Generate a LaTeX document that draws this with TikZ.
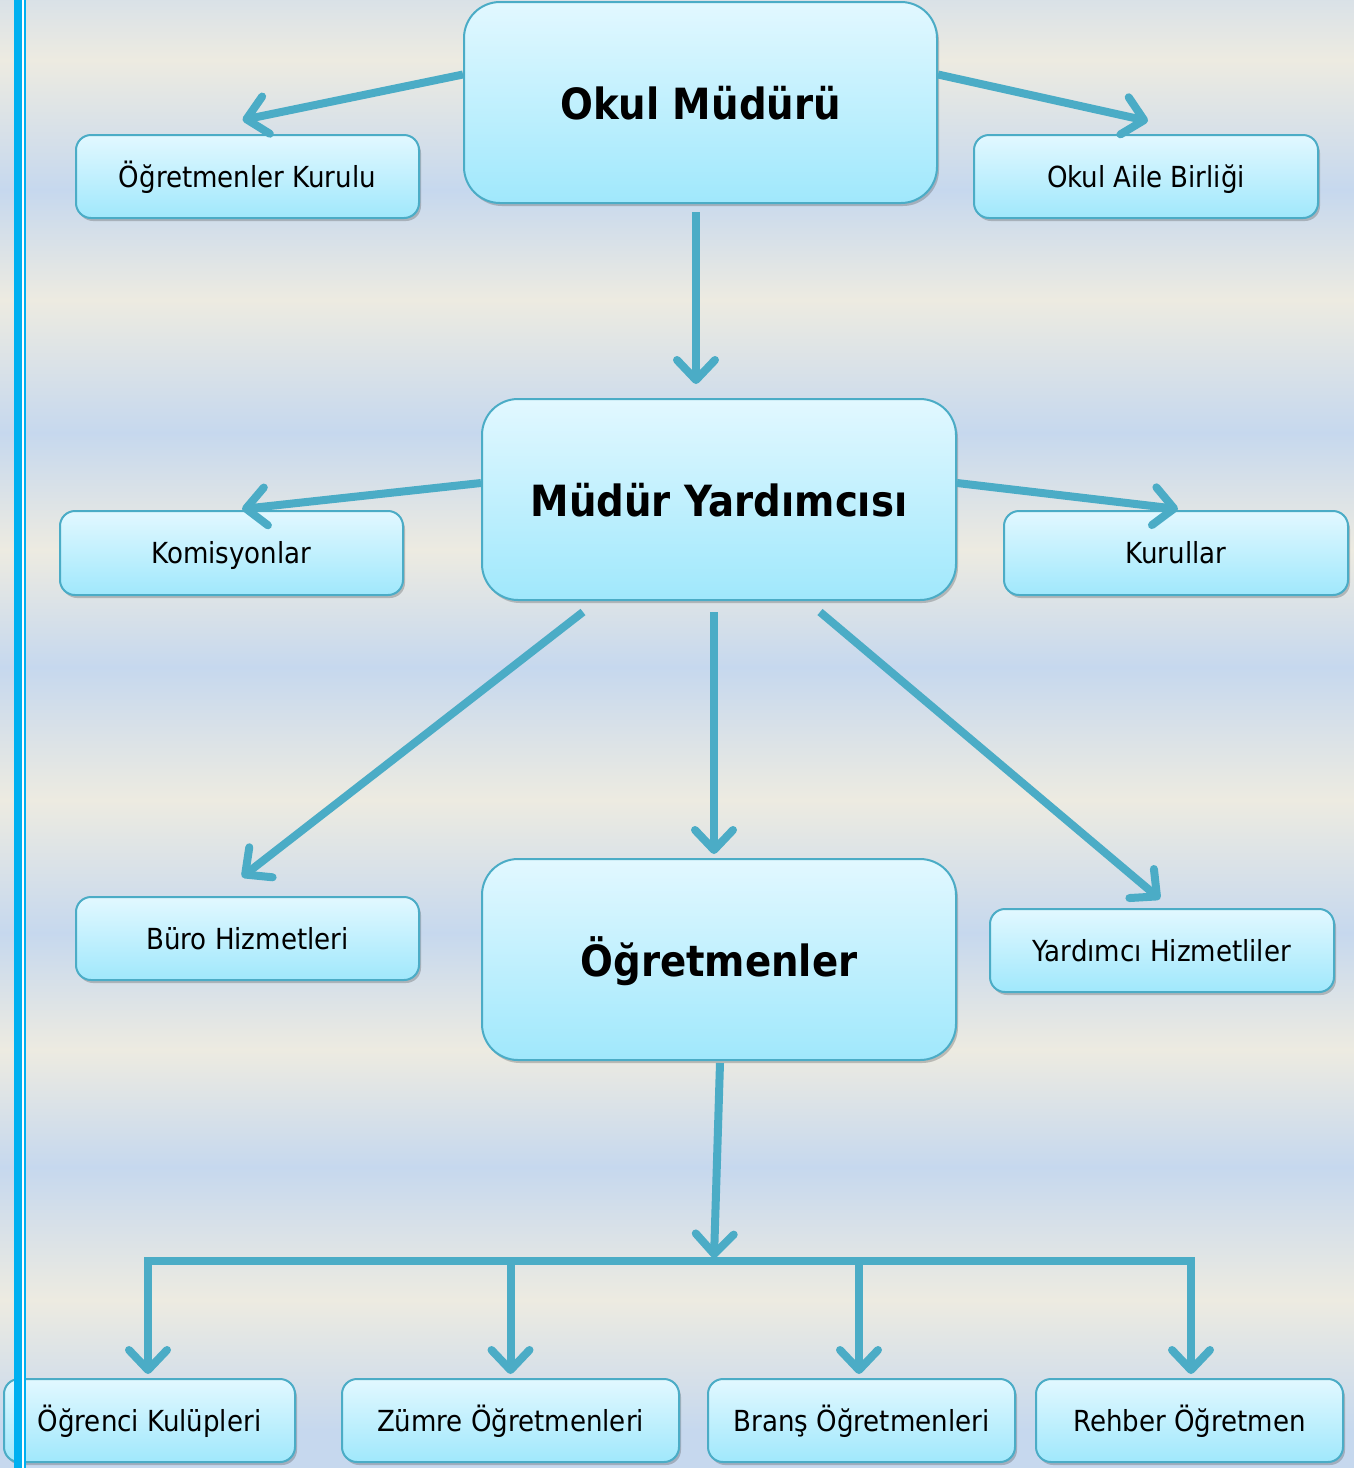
\documentclass[tikz,border=0pt]{standalone}
\usepackage{fontspec}
\IfFontExistsTF{DejaVu Sans Condensed}{\setmainfont{DejaVu Sans Condensed}}{\setmainfont{DejaVu Sans}}
\usetikzlibrary{arrows.meta,calc,shadows}
\definecolor{bgbeige}{RGB}{237,235,225}
\definecolor{bgblue}{RGB}{198,216,238}
\definecolor{lineblue}{RGB}{75,172,198}
\definecolor{boxtop}{RGB}{226,248,255}
\definecolor{boxbot}{RGB}{160,232,252}
\definecolor{barblue}{RGB}{0,176,240}
\tikzset{
  orgbox/.style={draw=lineblue, line width=2pt, top color=boxtop, bottom color=boxbot,
    rounded corners=15pt, minimum width=343pt, minimum height=83pt, inner sep=0pt,
    font=\fontsize{29}{34}\selectfont, text=black, text height=28pt, text depth=7pt,
    drop shadow={shadow xshift=2pt, shadow yshift=-3pt, opacity=0.3, fill=black!70}},
  bigbox/.style={orgbox, rounded corners=36pt, minimum width=473pt, minimum height=201pt,
    font=\fontsize{43}{50}\selectfont\bfseries, text height=43pt, text depth=10pt},
  conn/.style={draw=lineblue, line width=8pt, -{Straight Barb[length=20pt,width=38pt,round]}}
}
\begin{document}
\begin{tikzpicture}[x=1pt,y=-1pt]
\useasboundingbox (0,0) rectangle (1354,1468);
% background stripes
\foreach \ya/\ca/\yb/\cb in {-60/bgblue/60/bgbeige, 60/bgbeige/190/bgblue, 190/bgblue/300/bgbeige,
  300/bgbeige/433/bgblue, 433/bgblue/550/bgbeige, 550/bgbeige/667/bgblue, 667/bgblue/800/bgbeige,
  800/bgbeige/933/bgblue, 933/bgblue/1050/bgbeige, 1050/bgbeige/1167/bgblue, 1167/bgblue/1300/bgbeige,
  1300/bgbeige/1430/bgblue, 1430/bgblue/1500/bgblue}
  \shade[top color=\ca, bottom color=\cb] (-1,\ya-0.6) rectangle (1356,\yb+0.6);

% nodes
\node[bigbox] (om) at (700.5,102.5) {Okul Müdürü};
\node[orgbox] (ok) at (247.5,176.5) {Öğretmenler Kurulu};
\node[orgbox, minimum width=344pt] (oab) at (1146,176.5) {Okul Aile Birliği};
\node[bigbox, minimum width=474pt] (my) at (719,499.5) {Müdür Yardımcısı};
\node[orgbox, minimum height=84pt] (kom) at (231.5,553) {Komisyonlar};
\node[orgbox, minimum width=344pt, minimum height=84pt] (kur) at (1176,553) {Kurullar};
\node[orgbox] (buro) at (247.5,938.5) {Büro Hizmetleri};
\node[bigbox, minimum width=474pt] (ogr) at (719,959.5) {Öğretmenler};
\node[orgbox, minimum width=344pt] (yh) at (1162,950.5) {Yardımcı Hizmetliler};
\node[orgbox, minimum width=291pt] (kul) at (149.5,1420.5) {Öğrenci Kulüpleri};
\node[orgbox, minimum width=337pt] (zum) at (510.5,1420.5) {Zümre Öğretmenleri};
\node[orgbox, minimum width=307pt] (bra) at (861.5,1420.5) {Branş Öğretmenleri};
\node[orgbox, minimum width=307pt] (reh) at (1189.5,1420.5) {Rehber Öğretmen};

% connectors
\draw[conn] ($(om.west)+(0,-28)$) -- ($(ok.north)+(-5,-14)$);
\draw[conn] ($(om.east)+(0,-28)$) -- ($(oab.north)+(2,-13)$);
\draw[conn] ($(om.south)+(-4.5,8)$) -- ($(my.north)+(-23,-14)$);
\draw[conn] ($(my.west)+(0,-16.5)$) -- ($(kom.north)+(10.5,-1)$);
\draw[conn] ($(my.east)+(0,-16.5)$) -- ($(kur.north)+(2,-1)$);
\draw[conn] ($(my.south)+(-136,11)$) -- ($(buro.north)+(-5.5,-19)$);
\draw[conn] ($(my.south)+(-5,11)$) -- ($(ogr.north)+(-5,-4)$);
\draw[conn] ($(my.south)+(101,11)$) -- ($(yh.north)+(-2,-9)$);
\coordinate (bus) at (714,1261);
\draw[conn] ($(ogr.south)+(1,2)$) -- ($(bus)+(0,-3)$);
\draw[conn, {Straight Barb[length=20pt,width=38pt,round]}-{Straight Barb[length=20pt,width=38pt,round]}]
  ($(kul.north)+(-1.5,-4)$) |- (bus) -| ($(reh.north)+(1.5,-4)$);
\draw[conn] (zum.north |- bus) -- ($(zum.north)+(0,-4)$);
\draw[conn] ($(bra.north |- bus)+(-2.5,0)$) -- ($(bra.north)+(-2.5,-4)$);

% left border lines
\fill[barblue] (14,-1) rectangle (22,1469);
\fill[white] (22,-1) rectangle (24,1469);
\fill[barblue] (24,-1) rectangle (25.5,1469);
\end{tikzpicture}
\end{document}
